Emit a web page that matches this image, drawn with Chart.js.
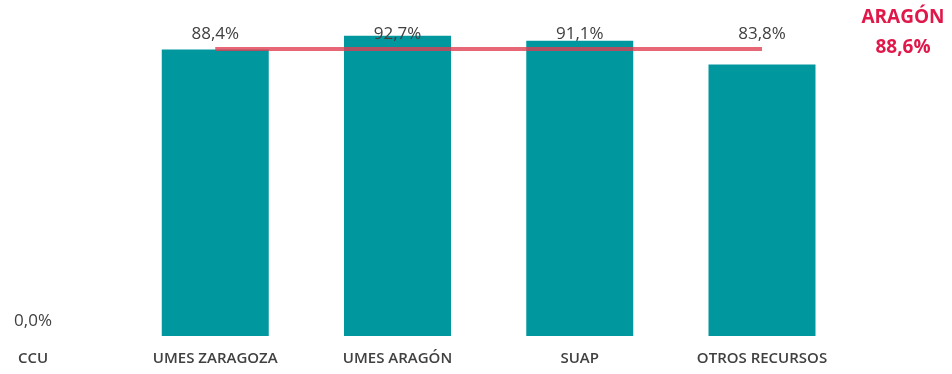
<!DOCTYPE html>
<html>
<head>
<meta charset="utf-8">
<script src="https://cdn.jsdelivr.net/npm/chart.js@4"></script>
<style>
  html, body { margin: 0; padding: 0; background: #fff; }
  #wrap { width: 952px; height: 374px; }
</style>
</head>
<body>
<div id="wrap"><canvas id="chart"></canvas></div>
<script>
// Datos del gráfico
const categories = ['CCU', 'UMES ZARAGOZA', 'UMES ARAGÓN', 'SUAP', 'OTROS RECURSOS'];
const values = [0.0, 88.4, 92.7, 91.1, 83.8];
const aragonValue = 88.6;
const aragonLabel = 'ARAGÓN';
const aragonLine = [null, aragonValue, aragonValue, aragonValue, aragonValue];

const fmt = v => v.toFixed(1).replace('.', ',') + '%';

// Etiquetas de valor sobre las barras y rótulo de Aragón
const labelsPlugin = {
    id: 'labels',
    afterDatasetsDraw(chart) {
        const ctx = chart.ctx;
        const meta = chart.getDatasetMeta(0);
        ctx.save();
        ctx.font = '17px "Open Sans"';
        ctx.fillStyle = '#404040';
        ctx.textAlign = 'center';
        ctx.textBaseline = 'bottom';
        meta.data.forEach((bar, i) => {
            ctx.fillText(fmt(values[i]), bar.x, bar.y - 6);
        });
        const y = chart.scales.y.getPixelForValue(aragonValue);
        const x = chart.chartArea.right + 141;
        ctx.font = 'bold 19px "Open Sans"';
        ctx.fillStyle = '#e0184a';
        ctx.textBaseline = 'middle';
        ctx.fillText(aragonLabel, x, y - 31);
        ctx.fillText(fmt(aragonValue), x, y - 1);
        ctx.restore();
    }
};

new Chart(document.getElementById('chart'), {
    type: 'bar',
    data: {
        labels: categories,
        datasets: [{
            type: 'line',
            data: aragonLine,
            borderColor: 'rgba(226, 60, 80, 0.78)',
            borderWidth: 4,
            pointRadius: 0,
            clip: false,
            order: 0
        }, {
            data: values,
            backgroundColor: '#00979f',
            categoryPercentage: 1,
            barPercentage: 0.587,
            clip: false,
            order: 1
        }]
    },
    options: {
        responsive: true,
        maintainAspectRatio: false,
        animation: false,
        layout: { padding: { left: 33, right: 190, top: 12, bottom: 0 } },
        plugins: {
            legend: { display: false },
            tooltip: { enabled: false }
        },
        scales: {
            x: {
                offset: false,
                grid: { display: false },
                border: { display: false },
                ticks: {
                    color: '#404040',
                    font: { family: 'Open Sans', size: 15, weight: '600' },
                    padding: 6,
                    maxRotation: 0,
                    autoSkip: false
                }
            },
            y: {
                display: false,
                min: 0,
                max: 100
            }
        }
    },
    plugins: [labelsPlugin]
});
</script>
</body>
</html>
